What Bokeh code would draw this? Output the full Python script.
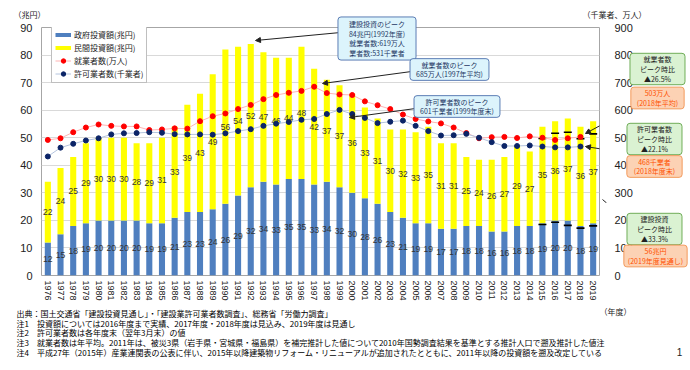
from bokeh.plotting import figure
from bokeh.models import (Range1d, LinearAxis, FixedTicker, ColumnDataSource, Label,
                          Arrow, NormalHead, Legend, LegendItem)
from bokeh.core.properties import value
from bokeh.embed import file_html
from bokeh.resources import INLINE

# ---------------- data ----------------
years = list(range(1976, 2020))
gov = [12, 15, 18, 19, 20, 20, 20, 20, 19, 19,
       21, 23, 23, 24, 26, 29, 32, 34, 33, 35,
       35, 33, 34, 32, 30, 28, 26, 23, 21, 19,
       19, 17, 17, 18, 18, 16, 16, 18, 18, 19,
       20, 20, 18, 19]
priv = [22, 24, 25, 29, 30, 30, 30, 28, 29, 31,
        33, 39, 43, 49, 56, 54, 52, 47, 46, 44,
        48, 42, 37, 37, 36, 33, 31, 30, 32, 33,
        35, 31, 31, 25, 24, 26, 27, 29, 27, 35,
        36, 37, 36, 37]
line_years = list(range(1976, 2019))
workers = [492, 498, 520, 537, 548, 543, 541, 541, 528, 530,
           534, 533, 560, 578, 588, 604, 619, 640, 655, 663,
           670, 685, 662, 657, 655, 632, 618, 604, 584, 568,
           559, 552, 537, 517, 498, 502, 503, 499, 505, 500,
           492, 498, 503]
permits = [432, 464, 478, 490, 498, 512, 516, 517, 520, 518,
           513, 512, 512, 511, 516, 524, 531, 543, 551, 557,
           565, 568, 586, 601, 586, 572, 553, 558, 562, 543,
           524, 508, 509, 514, 500, 484, 470, 470, 472, 468,
           465, 465, 468]
old_years = [2015, 2016, 2017, 2018, 2019]
old_total = [49.7, 51.6, 52.0, 49.6, 51.4]
old_gov = [18.5, 19.3, 18.2, 17.2, 18.0]
left_ticks = list(range(0, 91, 10))
right_ticks = list(range(0, 901, 100))

BLUE = "#4f7fbf"
YELLOW = "#ffff00"
JP = "Noto Sans CJK JP"
NUM = "Liberation Sans"

# ---------------- figure ----------------
p = figure(frame_width=558, frame_height=248, output_backend="svg", toolbar_location=None,
           x_range=Range1d(1975.5, 2019.5), y_range=Range1d(0, 90),
           min_border_left=41, min_border_right=83, min_border_top=27,
           min_border_bottom=87)
p.extra_y_ranges = {"right": Range1d(0, 900)}
p.outline_line_color = "#a6a6a6"
p.background_fill_color = "white"
p.border_fill_color = "white"

p.xgrid.grid_line_color = None
p.ygrid.grid_line_color = "#d9d9d9"
p.ygrid.ticker = FixedTicker(ticks=left_ticks)

p.yaxis.ticker = FixedTicker(ticks=left_ticks)
p.xaxis.ticker = FixedTicker(ticks=years)
for ax in (p.xaxis[0], p.yaxis[0]):
    ax.axis_line_color = None
    ax.major_tick_line_color = None
    ax.minor_tick_line_color = None
    ax.major_tick_out = 0
    ax.major_label_text_font = NUM
    ax.major_label_text_color = "#222222"
p.yaxis.major_label_text_font_size = "11px"
p.yaxis.major_label_standoff = 9
p.xaxis.major_label_text_font_size = "9px"
p.xaxis.major_label_orientation = "vertical"
p.xaxis.major_label_standoff = 5

ra = LinearAxis(y_range_name="right", ticker=FixedTicker(ticks=right_ticks))
ra.axis_line_color = None
ra.major_tick_line_color = None
ra.minor_tick_line_color = None
ra.major_tick_out = 0
ra.major_label_text_font = NUM
ra.major_label_text_font_size = "11px"
ra.major_label_text_color = "#222222"
ra.major_label_standoff = 15
p.add_layout(ra, "right")

# ---------------- bars ----------------
src = ColumnDataSource(dict(
    year=years, gov=gov, priv=priv,
    top=[g + q for g, q in zip(gov, priv)],
    gmid=[g / 2 for g in gov],
    pmid=[g + q / 2 for g, q in zip(gov, priv)],
    glab=[str(g) for g in gov],
    plab=[str(q) for q in priv]))
p.vbar(x="year", bottom=0, top="gov", width=0.48, fill_color=BLUE, line_color=None, source=src)
p.vbar(x="year", bottom="gov", top="top", width=0.48, fill_color=YELLOW, line_color=None, source=src)
p.text(x="year", y="gmid", text="glab", source=src, text_align="center", text_baseline="middle",
       text_font=value(NUM), text_font_size="8.5px", text_color="#333333")
p.text(x="year", y="pmid", text="plab", source=src, text_align="center", text_baseline="middle",
       text_font=value(NUM), text_font_size="8.5px", text_color="#333333")

# old-basis markers
p.scatter(old_years, old_total, marker="dash", size=8, line_color="black", line_width=1.6)
p.scatter(old_years, old_gov, marker="dash", size=8, line_color="black", line_width=1.6)

# ---------------- lines ----------------
wl = p.line(line_years, workers, y_range_name="right", line_color="#ffb3b3", line_width=1)
wd = p.scatter(line_years, workers, y_range_name="right", size=5, fill_color="#ff0000", line_color="#ff0000")
pl = p.line(line_years, permits, y_range_name="right", line_color="#b4c4de", line_width=1)
pd_ = p.scatter(line_years, permits, y_range_name="right", size=5, fill_color="#0b2467", line_color="#0b2467")

# legend proxies (no visible data)
nan = float("nan")
lb = p.line(x=years[:2], y=[nan, nan], line_color=BLUE, line_width=4)
ly = p.line(x=years[:2], y=[nan, nan], line_color=YELLOW, line_width=4)

legend = Legend(items=[
    LegendItem(label="政府投資額(兆円)", renderers=[lb]),
    LegendItem(label="民間投資額(兆円)", renderers=[ly]),
    LegendItem(label="就業者数(万人)", renderers=[wl, wd]),
    LegendItem(label="許可業者数(千業者)", renderers=[pl, pd_]),
], location=(10, 192), glyph_width=16, glyph_height=11, label_height=11,
    label_standoff=3, spacing=2, padding=3, margin=0,
    label_text_font=JP, label_text_font_size="8px", label_text_color="#222222",
    border_line_color="#7f7f7f", background_fill_color="white", background_fill_alpha=1)
p.add_layout(legend)

# ---------------- annotations (side panel so they are not clipped) ----------------
def xd(px):
    return 1975.5 + (px - 41) / 12.682


def yd(py):
    return (275 - py) / 2.7556


SIDE = "right"


def box(cx, cy, fill, line, text, color, h=5, v=2, size="7px"):
    p.add_layout(Label(x=xd(cx), y=yd(cy), text=text,
                       text_align="center", text_baseline="middle", text_font=JP,
                       text_font_size=size, text_color=color, text_line_height=0.97,
                       background_fill_color=fill, background_fill_alpha=1,
                       border_line_color=line, border_line_width=1,
                       padding=dict(left=h, right=h, top=v, bottom=v),
                       border_radius=3), SIDE)


def arrow(x0, y0, x1, y1):
    p.add_layout(Arrow(end=NormalHead(size=5, fill_color="#222222", line_color="#222222"),
                       x_start=xd(x0), y_start=yd(y0), x_end=xd(x1), y_end=yd(y1),
                       line_color="#222222", line_width=1), SIDE)


def label(px, py, text, size="8px", align="left", font=JP, color="#222222"):
    p.add_layout(Label(x=xd(px), y=yd(py), text=text, text_align=align, text_baseline="middle",
                       text_font=font, text_font_size=size, text_color=color), SIDE)


LB_F, LB_L, LB_T = "#dcf4fc", "#5b7db5", "#1f3864"
GR_F, GR_L = "#daf2d2", "#6fad58"
OR_F, OR_L, OR_T = "#fcd2b4", "#f39a5c", "#ff5000"

arrow(340, 32, 255, 40)
arrow(411, 71, 322, 83)
arrow(415, 108, 349, 117)
arrow(633, 107, 585, 133)
arrow(629, 153, 585, 146)
arrow(629, 222, 602, 199)

box(376.5, 38, LB_F, LB_L, "建設投資のピーク\n84兆円(1992年度)\n就業者数:619万人\n業者数:531千業者", LB_T, h=11, v=2)
box(449, 69, LB_F, LB_L, "就業者数のピーク\n685万人(1997年平均)", LB_T, h=6, v=1)
box(456.5, 106, LB_F, LB_L, "許可業者数のピーク\n601千業者(1999年度末)", LB_T, h=6, v=1)
box(657, 68.5, GR_F, GR_L, "就業者数\nピーク時比\n▲26.5%", "#222222", h=10, v=1)
box(657, 97.5, OR_F, OR_L, "503万人\n(2018年平均)", OR_T, h=6, v=1)
box(654, 138.5, GR_F, GR_L, "許可業者数\nピーク時比\n▲22.1%", "#222222", h=10, v=1)
box(654, 166, OR_F, OR_L, "468千業者\n(2018年度末)", OR_T, h=7, v=1)
box(654, 228.5, GR_F, GR_L, "建設投資\nピーク時比\n▲33.3%", "#222222", h=10, v=1)
box(655, 255.5, OR_F, OR_L, "56兆円\n(2019年度見通し)", OR_T, h=4, v=1)

label(29, 14, "（兆円）", size="8px", align="center")
label(614, 14, "（千業者、万人）", size="8px", align="center")
label(615, 311, "（年度）", size="8px", align="center")
label(679, 352, "1", size="10px", align="center", font=NUM)

notes = [
    "出典：国土交通省「建設投資見通し」・「建設業許可業者数調査」、総務省「労働力調査」",
    "注1　投資額については2016年度まで実績、2017年度・2018年度は見込み、2019年度は見通し",
    "注2　許可業者数は各年度末（翌年3月末）の値",
    "注3　就業者数は年平均。2011年は、被災3県（岩手県・宮城県・福島県）を補完推計した値について2010年国勢調査結果を基準とする推計人口で遡及推計した値注",
    "注4　平成27年（2015年）産業連関表の公表に伴い、2015年以降建築物リフォーム・リニューアルが追加されたとともに、2011年以降の投資額を遡及改定している",
]
for i, n in enumerate(notes):
    label(16, 313 + i * 9.7, n, size="8px", color="#000000")

open("out.html", "w").write(file_html(p, INLINE))
